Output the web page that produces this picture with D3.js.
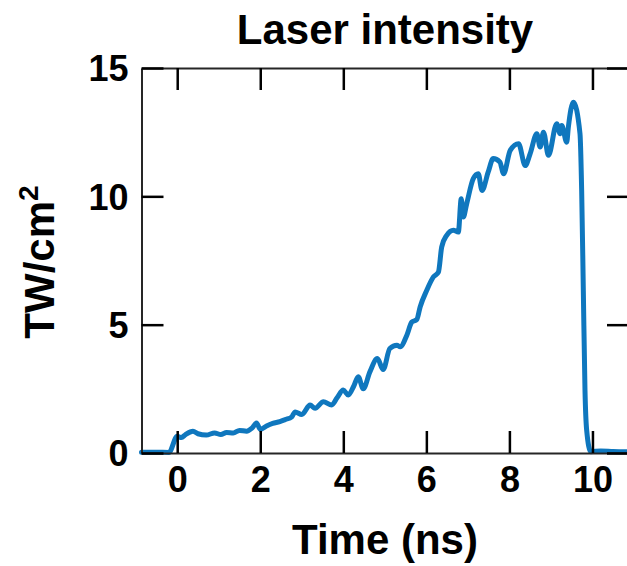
<!DOCTYPE html>
<html><head><meta charset="utf-8">
<script src="https://cdn.jsdelivr.net/npm/d3@7"></script>
<style>
html,body{margin:0;padding:0;background:#fff;}
svg{display:block;font-family:"Liberation Sans",Arial,Helvetica,sans-serif;font-weight:bold;}
</style></head>
<body><svg id="c" width="627" height="566"></svg>
<script>
const title = "Laser intensity";
const xLabel = "Time (ns)";
const yLabelMain = "TW/cm";
const yLabelSup = "2";
const xTicks = [0, 2, 4, 6, 8, 10];
const yTicks = [0, 5, 10, 15];
const xDomain = [-0.86, 10.88];
const yDomain = [0, 15];
const time = [-0.86, -0.5, -0.2, 0.0, 0.1, 0.2, 0.38, 0.5, 0.7, 0.9, 1.05, 1.19, 1.35, 1.5, 1.67, 1.8, 1.91, 2.0, 2.15, 2.3, 2.47, 2.6, 2.76, 2.84, 3.0, 3.2, 3.32, 3.52, 3.72, 3.85, 4.0, 4.12, 4.25, 4.36, 4.48, 4.64, 4.82, 4.96, 5.12, 5.29, 5.37, 5.53, 5.65, 5.77, 5.85, 6.01, 6.17, 6.29, 6.37, 6.49, 6.65, 6.77, 6.84, 6.89, 6.97, 7.13, 7.25, 7.34, 7.49, 7.61, 7.77, 7.86, 8.02, 8.22, 8.38, 8.5, 8.66, 8.74, 8.82, 8.94, 9.14, 9.22, 9.26, 9.38, 9.42, 9.54, 9.7, 9.74, 9.78, 9.82, 9.86, 9.96, 10.2, 10.5, 10.88];
const intensity = [0.03, 0.03, 0.02, 0.65, 0.6, 0.72, 0.85, 0.75, 0.7, 0.78, 0.72, 0.8, 0.78, 0.88, 0.85, 0.97, 1.17, 0.92, 1.05, 1.15, 1.22, 1.3, 1.41, 1.6, 1.5, 1.87, 1.74, 2.0, 1.87, 2.15, 2.45, 2.26, 2.6, 2.97, 2.5, 3.16, 3.68, 3.25, 4.07, 4.2, 4.14, 4.59, 5.1, 5.2, 5.69, 6.34, 6.86, 7.05, 8.03, 8.48, 8.68, 8.61, 9.91, 9.19, 9.7, 10.69, 10.88, 10.23, 10.95, 11.47, 11.34, 10.88, 11.79, 12.05, 11.2, 11.66, 12.44, 11.92, 12.5, 11.6, 12.83, 12.44, 12.76, 12.11, 12.7, 13.67, 12.44, 10.23, 6.34, 2.45, 0.9, 0.05, 0.08, 0.06, 0.05];

(function () {
const svg = d3.select("#c");
const L = 141.5, R = 629, T = 68, B = 453;
const x = d3.scaleLinear().domain(xDomain).range([L, R]);
const y = d3.scaleLinear().domain(yDomain).range([B, T]);
const tickLen = 22;

const data = time.map((t, i) => [t, intensity[i]]);
svg.append("path").datum(data)
  .attr("fill", "none").attr("stroke", "#0F77BE").attr("stroke-width", 5)
  .attr("stroke-linejoin", "round").attr("stroke-linecap", "round")
  .attr("d", d3.line().curve(d3.curveMonotoneX).x(d => x(d[0])).y(d => y(d[1])));

const gBottom = svg.append("g").attr("transform", `translate(0,${B})`)
  .call(d3.axisBottom(x).tickValues(xTicks).tickSizeInner(-tickLen).tickSizeOuter(0).tickFormat(d3.format("d")));
const gTop = svg.append("g").attr("transform", `translate(0,${T})`)
  .call(d3.axisTop(x).tickValues(xTicks).tickSizeInner(-tickLen).tickSizeOuter(0).tickFormat(""));
const gLeft = svg.append("g").attr("transform", `translate(${L},0)`)
  .call(d3.axisLeft(y).tickValues(yTicks).tickSizeInner(-tickLen).tickSizeOuter(0).tickPadding(13).tickFormat(d3.format("d")));
const gRight = svg.append("g").attr("transform", `translate(${R},0)`)
  .call(d3.axisRight(y).tickValues(yTicks).tickSizeInner(-tickLen).tickSizeOuter(0).tickFormat(""));

[gBottom, gTop, gLeft, gRight].forEach(g => {
  g.select(".domain").attr("stroke", "#262626").attr("stroke-width", 2);
  g.selectAll(".tick line").attr("stroke", "#000").attr("stroke-width", 2.5);
  g.selectAll("text").attr("font-size", 36).attr("font-weight", "bold").attr("fill", "#000")
    .attr("font-family", "'Liberation Sans',Arial,Helvetica,sans-serif");
});
gBottom.selectAll("text").attr("dy", null).attr("y", 39);
gLeft.selectAll("text").attr("dy", "0.36em");

svg.append("text").attr("x", 385).attr("y", 44).attr("text-anchor", "middle")
  .attr("font-size", 42).text(title);
svg.append("text").attr("x", 385).attr("y", 554).attr("text-anchor", "middle")
  .attr("font-size", 42).text(xLabel);
const yl = svg.append("text").attr("transform", "translate(54,262) rotate(-90)")
  .attr("text-anchor", "middle").attr("font-size", 42);
yl.append("tspan").text(yLabelMain);
yl.append("tspan").attr("font-size", 28).attr("dy", -16).text(yLabelSup);
})();
</script></body></html>
